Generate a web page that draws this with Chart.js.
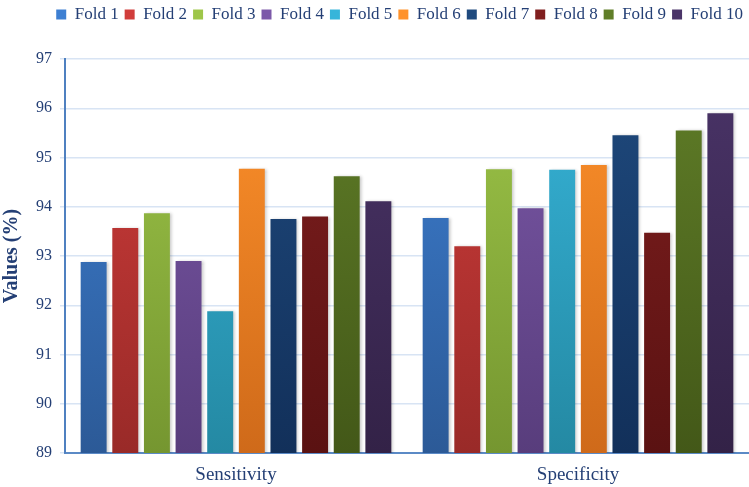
<!DOCTYPE html>
<html>
<head>
<meta charset="utf-8">
<script src="https://cdn.jsdelivr.net/npm/chart.js@4.4.1/dist/chart.umd.min.js"></script>
<style>
  html, body { margin: 0; padding: 0; background: #fff; }
  #wrap { width: 749px; height: 487px; position: relative; }
</style>
</head>
<body>
<div id="wrap"><canvas id="myChart"></canvas></div>
<script>
// Data
const categories = ['Sensitivity', 'Specificity'];
const foldNames = ['Fold 1', 'Fold 2', 'Fold 3', 'Fold 4', 'Fold 5', 'Fold 6', 'Fold 7', 'Fold 8', 'Fold 9', 'Fold 10'];
const sensitivity = [92.88, 93.57, 93.87, 92.90, 91.88, 94.77, 93.75, 93.80, 94.62, 94.11];
const specificity = [93.77, 93.20, 94.76, 93.97, 94.75, 94.85, 95.45, 93.47, 95.55, 95.90];
const yMin = 89;
const yMax = 97;

// Bar colours (top, bottom of the gradient)
const topColors = ['#3d7fd2', '#d13d3b', '#9ec649', '#7c59a9', '#37b5da', '#ff922b', '#1f4a7e', '#801f1f', '#607e28', '#4a3468'];
const bottomColors = ['#2c5a97', '#992a28', '#759630', '#583d7c', '#2489a3', '#cf6a1a', '#12305a', '#5a1212', '#435818', '#332247'];

const textColor = '#243f75';
const fontFamily = '"Liberation Serif", "Times New Roman", serif';

const gradient = (i) => (context) => {
    const area = context.chart.chartArea;
    if (!area) return topColors[i];
    const g = context.chart.ctx.createLinearGradient(0, area.top, 0, area.bottom);
    g.addColorStop(0, topColors[i]);
    g.addColorStop(1, bottomColors[i]);
    return g;
};

const datasets = foldNames.map((name, i) => ({
    label: name,
    data: [sensitivity[i], specificity[i]],
    backgroundColor: gradient(i),
    borderWidth: 0,
    categoryPercentage: 0.925,
    barPercentage: 0.82
}));

// extra space between the legend and the plot
const legendGap = {
    id: 'legendGap',
    beforeInit(chart) {
        const fit = chart.legend.fit;
        chart.legend.fit = function () {
            fit.bind(chart.legend)();
            this.height += 26;
        };
    }
};

// soft shadow behind the bars
const barShadow = {
    id: 'barShadow',
    beforeDatasetsDraw(chart) {
        const ctx = chart.ctx;
        ctx.save();
        ctx.shadowColor = 'rgba(0,0,0,0.22)';
        ctx.shadowBlur = 3;
        ctx.shadowOffsetX = 2;
        ctx.shadowOffsetY = 0;
    },
    afterDatasetsDraw(chart) {
        chart.ctx.restore();
    }
};

const chart = new Chart('myChart', {
    type: 'bar',
    data: { labels: categories, datasets: datasets },
    plugins: [legendGap, barShadow],
    options: {
        responsive: true,
        maintainAspectRatio: false,
        animation: false,
        layout: { padding: { left: 0, right: 0, top: 0, bottom: 0 } },
        plugins: {
            legend: {
                position: 'top',
                align: 'end',
                labels: {
                    boxWidth: 10,
                    boxHeight: 10,
                    padding: 6,
                    color: textColor,
                    font: { family: fontFamily, size: 17 }
                }
            },
            tooltip: { enabled: false }
        },
        scales: {
            x: {
                grid: { display: false },
                border: { display: true, color: '#5b8ac6', width: 2 },
                ticks: {
                    color: textColor,
                    padding: 3,
                    font: { family: fontFamily, size: 19 }
                },
                afterFit(scale) { scale.height = 34; }
            },
            y: {
                min: yMin,
                max: yMax,
                ticks: {
                    stepSize: 1,
                    color: textColor,
                    padding: 8,
                    font: { family: fontFamily, size: 16 }
                },
                grid: { color: '#d8e4f4', lineWidth: 1.5, tickLength: 5 },
                border: { display: true, color: '#4f80c0', width: 2 },
                title: {
                    display: true,
                    text: 'Values (%)',
                    color: textColor,
                    padding: { top: 0, bottom: 4 },
                    font: { family: fontFamily, size: 20, weight: 'bold' }
                },
                afterFit(scale) { scale.width = 65; }
            }
        }
    }
});
</script>
</body>
</html>
